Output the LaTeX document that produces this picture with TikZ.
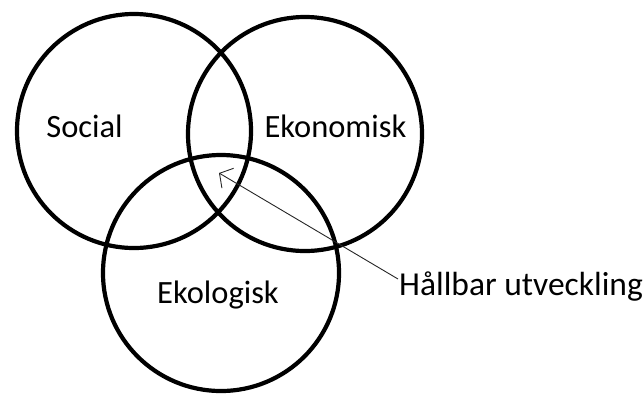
\documentclass[tikz,border=0pt]{standalone}
\usepackage{fontspec}
\setmainfont{Carlito}
\usetikzlibrary{arrows.meta}
\begin{document}
\begin{tikzpicture}[x=1bp,y=-1bp,
  ring/.style={draw=black,line width=4.2bp},
  lbl/.style={font=\fontsize{32.5bp}{38bp}\selectfont,inner sep=0pt,text=black},
  pointer/.style={draw=black!85,line width=0.9bp,-{Straight Barb[length=9.6bp,width=23bp,line width=0.9bp]}}]
\useasboundingbox (0,0) rectangle (644,394);
\draw[ring] (134,131) circle[radius=117];
\draw[ring] (305,134) circle[radius=117];
\draw[ring] (221,273) circle[radius=118];
\node[lbl,anchor=base] (social) at (84.5,137) {Social};
\node[lbl,anchor=base] (ekonomisk) at (335.5,137) {Ekonomisk};
\node[lbl,anchor=base] (ekologisk) at (218,303) {Ekologisk};
\node[lbl,anchor=base west,font=\fontsize{33.5bp}{40bp}\selectfont] (hallbar) at (399,295) {Hållbar utveckling};
\coordinate (start) at (398,279);
\coordinate (tip) at (219,173);
\draw[pointer] (start) -- (tip);
\end{tikzpicture}
\end{document}
